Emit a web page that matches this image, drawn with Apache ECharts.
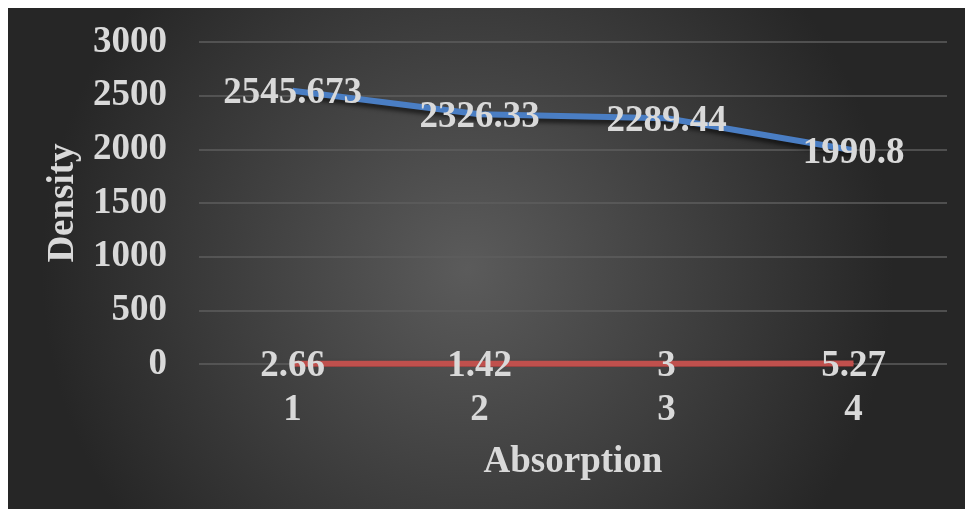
<!DOCTYPE html>
<html>
<head>
<meta charset="utf-8">
<script src="https://cdn.jsdelivr.net/npm/echarts@6/dist/echarts.min.js"></script>
<style>
html,body{margin:0;padding:0;background:#ffffff;width:965px;height:509px;overflow:hidden;}
#c{position:absolute;left:8px;top:8px;width:957px;height:501px;}
</style>
</head>
<body>
<div id="c"></div>
<script>
var categories = ['1', '2', '3', '4'];
var densityValues = [2545.673, 2326.33, 2289.44, 1990.8];
var absorptionValues = [2.66, 1.42, 3, 5.27];
var yTicks = { min: 0, max: 3000, interval: 500 };

var FONT = '"Liberation Serif", "Times New Roman", serif';
var TXT = '#d9d9d9';
var FS = 37;

var chart = echarts.init(document.getElementById('c'), null, { renderer: 'canvas' });
chart.setOption({
  backgroundColor: {
    type: 'radial', x: 0.48, y: 0.52, r: 0.85,
    colorStops: [{ offset: 0, color: '#5b5b5b' }, { offset: 1, color: '#262626' }]
  },
  animation: false,
  grid: { left: 191, right: 18, top: 34, bottom: 145 },
  xAxis: {
    type: 'category',
    data: categories,
    boundaryGap: true,
    name: 'Absorption',
    nameLocation: 'middle',
    nameGap: 80,
    nameTextStyle: { color: TXT, fontFamily: FONT, fontWeight: 'bold', fontSize: FS },
    axisLine: { show: false },
    axisTick: { show: false },
    axisLabel: { color: TXT, fontFamily: FONT, fontWeight: 'bold', fontSize: FS, margin: 28 }
  },
  yAxis: {
    type: 'value',
    min: yTicks.min, max: yTicks.max, interval: yTicks.interval,
    name: 'Density',
    nameLocation: 'middle',
    nameGap: 103,
    nameTextStyle: { color: TXT, fontFamily: FONT, fontWeight: 'bold', fontSize: FS },
    axisLine: { show: false },
    axisTick: { show: false },
    axisLabel: { color: TXT, fontFamily: FONT, fontWeight: 'bold', fontSize: FS, margin: 32,
      formatter: function (v) { return String(v); } },
    splitLine: { lineStyle: { color: '#5e5e5e', width: 1.5 } }
  },
  series: [
    {
      type: 'line',
      data: densityValues,
      symbol: 'circle', symbolSize: 1,
      itemStyle: { color: '#4a7ec4' },
      lineStyle: { color: '#4a7ec4', width: 6, shadowColor: 'rgba(0,0,0,0.6)', shadowBlur: 4, shadowOffsetY: 4, shadowOffsetX: 1 },
      label: { show: true, position: 'inside', offset: [0, 3], color: TXT, fontFamily: FONT, fontWeight: 'bold', fontSize: FS },
      z: 3
    },
    {
      type: 'line',
      data: absorptionValues,
      symbol: 'circle', symbolSize: 1,
      itemStyle: { color: '#c0504d' },
      lineStyle: { color: '#c0504d', width: 6, shadowColor: 'rgba(0,0,0,0.6)', shadowBlur: 4, shadowOffsetY: 3, shadowOffsetX: 1 },
      label: { show: true, position: 'inside', offset: [0, 3], color: TXT, fontFamily: FONT, fontWeight: 'bold', fontSize: FS },
      z: 3
    }
  ]
});
</script>
</body>
</html>
